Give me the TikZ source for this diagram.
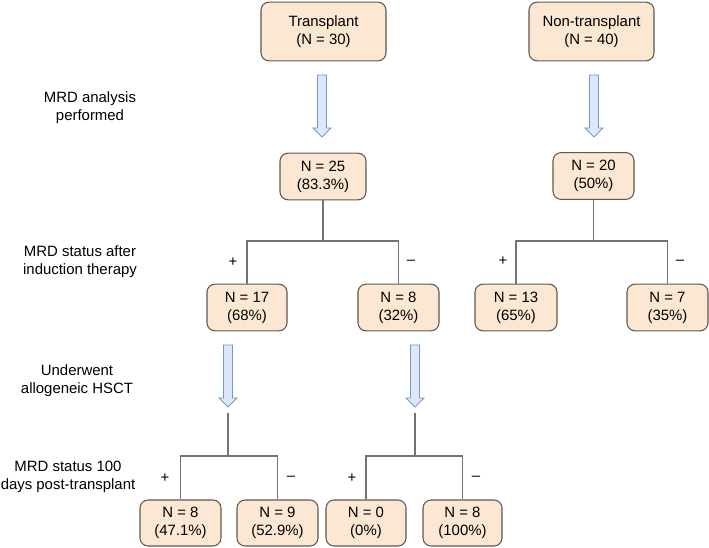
\documentclass[tikz,border=0pt]{standalone}
\usepackage{fontspec}
\setmainfont{Liberation Sans}
\definecolor{boxfill}{RGB}{252,231,210}
\definecolor{boxline}{RGB}{95,88,80}
\definecolor{treeline}{RGB}{115,115,115}
\definecolor{arrowfill}{RGB}{220,232,250}
\definecolor{arrowline}{RGB}{120,150,200}
\newcommand\myfs{\fontsize{11.2}{13.5}\selectfont}
\newcommand\blockarr[3]{%
  \draw[barrowst] (#1-4.5,#2) -- (#1+4.5,#2) -- (#1+4.5,#3-9) -- (#1+9,#3-9) -- (#1,#3) -- (#1-9,#3-9) -- (#1-4.5,#3-9) -- cycle;}
\begin{document}
\begin{tikzpicture}[x=0.75pt,y=-0.75pt,
  box/.style={draw=boxline, fill=boxfill, rounded corners=6pt, line width=0.8pt, align=center, font=\myfs, inner sep=0pt, minimum width=#1*0.75pt},
  box/.default=81,
  lab/.style={align=center, font=\myfs},
  sign/.style={font=\myfs},
  tree/.style={draw=treeline, line width=0.85pt},
  barrowst/.style={draw=arrowline, fill=arrowfill, line width=0.6pt}]
\useasboundingbox (0,0) rectangle (709,548);

% top boxes
\node[box=125, minimum height=44pt] (tr) at (323.5,31.5) {Transplant\\(N = 30)};
\node[box=125, minimum height=44pt] (nt) at (591.5,31.5) {Non-transplant\\(N = 40)};

% second level
\node[box=86, minimum height=35pt] (n25) at (323,176.5) {N = 25\\(83.3\%)};
\node[box=81, minimum height=35pt] (n20) at (593.5,176) {N = 20\\(50\%)};

% third level
\node[box=80, minimum height=35pt] (n17) at (247,307.5) {N = 17\\(68\%)};
\node[box=81, minimum height=35pt] (n8) at (398.5,307.5) {N = 8\\(32\%)};
\node[box=82, minimum height=35pt] (n13) at (516,307.5) {N = 13\\(65\%)};
\node[box=81, minimum height=35pt] (n7) at (667.5,307.5) {N = 7\\(35\%)};

% bottom level
\node[box=81, minimum height=34.5pt] (b1) at (180.5,523) {N = 8\\(47.1\%)};
\node[box=81, minimum height=34.5pt] (b2) at (277.5,523) {N = 9\\(52.9\%)};
\node[box=80, minimum height=34.5pt] (b3) at (366,523) {N = 0\\(0\%)};
\node[box=79, minimum height=34.5pt] (b4) at (462.5,523) {N = 8\\(100\%)};

% left labels
\node[lab] (l1) at (90,108) {MRD analysis\\performed};
\node[lab] (l2) at (80,262) {MRD status after\\induction therapy};
\node[lab] (l3) at (77,381) {Underwent\\allogeneic HSCT};
\node[lab] (l4) at (68,476.5) {MRD status 100\\days post-transplant};

% block arrows
\blockarr{322}{75}{137}
\blockarr{594}{75}{137}
\blockarr{228}{345}{407}
\blockarr{415}{345}{407}

% trees level 2 -> 3
\coordinate (h1) at (323,241);
\draw[tree] (n25.south) -- (h1);
\draw[tree] (n17.north) |- (h1) -| (n8.north);
\coordinate (h2) at (593.5,241);
\draw[tree] (n20.south) -- (h2);
\draw[tree] (n13.north) |- (h2) -| (n7.north);

% trees bottom
\coordinate (t1) at (228,413);
\coordinate (h3) at (228,456);
\draw[tree] (t1) -- (h3);
\draw[tree] (b1.north) |- (h3) -| (b2.north);
\coordinate (t2) at (415,413);
\coordinate (h4) at (415,456);
\draw[tree] (t2) -- (h4);
\draw[tree] (b3.north) |- (h4) -| (b4.north);

% signs
\node[sign] (s1) at (233,262) {+};
\node[sign] (s2) at (411,262) {--};
\node[sign] (s3) at (503,261) {+};
\node[sign] (s4) at (680,262) {--};
\node[sign] (s5) at (165,478) {+};
\node[sign] (s6) at (291,478) {--};
\node[sign] (s7) at (352,478) {+};
\node[sign] (s8) at (476,478) {--};
\end{tikzpicture}
\end{document}
